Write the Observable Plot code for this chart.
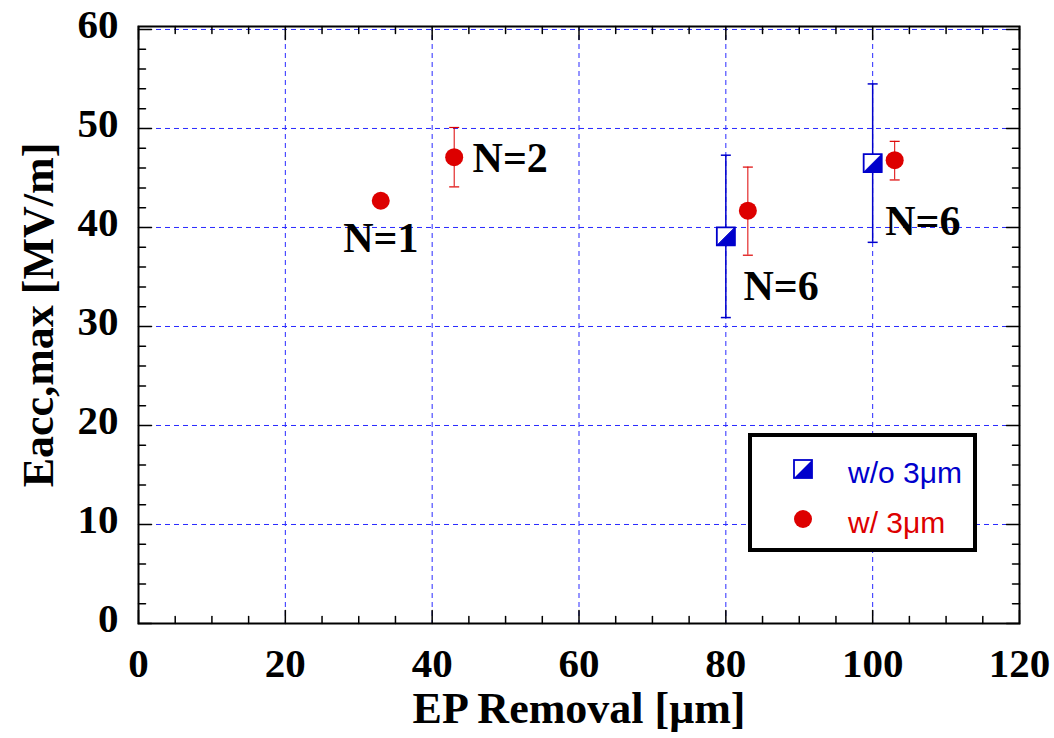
<!DOCTYPE html>
<html>
<head>
<meta charset="utf-8">
<script src="https://cdn.jsdelivr.net/npm/d3@7"></script>
<script src="https://cdn.jsdelivr.net/npm/@observablehq/plot@0.6"></script>
<style>
  html, body { margin: 0; padding: 0; background: #fff; }
  #wrap { position: relative; width: 1054px; height: 738px; }
  #legend { position: absolute; left: 748px; top: 433px; }
</style>
</head>
<body>
<div id="wrap"></div>
<script>
// ---- data ----
const seriesNames = ["w/o 3\u03bcm", "w/ 3\u03bcm"];
// w/o 3um (blue half-filled squares)
const woX  = [80, 100];
const woY  = [39.1, 46.5];
const woLo = [30.9, 38.5];
const woHi = [47.3, 54.5];
// w/ 3um (red circles)
const wX  = [33, 43, 83, 103];
const wY  = [42.7, 47.1, 41.7, 46.8];
const wLo = [null, 44.1, 37.2, 44.8];
const wHi = [null, 50.1, 46.1, 48.7];
// annotations
const annoText   = ["N=1", "N=2", "N=6", "N=6"];
const annoX      = [33, 45.5, 82.4, 101.7];
const annoY      = [38.9, 47.0, 34.0, 40.6];
const annoAnchor = ["middle", "start", "start", "start"];
// axes
const xTickLabels = [0, 20, 40, 60, 80, 100, 120];
const yTickLabels = [0, 10, 20, 30, 40, 50, 60];
const xGridVals = [20, 40, 60, 80, 100];
const yGridVals = [10, 20, 30, 40, 50, 60];
const xMinorVals = d3.range(0, 121, 5).filter(v => v % 20 !== 0);
const yMinorVals = d3.range(0, 61, 2).filter(v => v % 10 !== 0);
const xTitle = "EP Removal [\u03bcm]";
const yTitle = "Eacc,max [MV/m]";

// ---- styling ----
const BLUE = "#0000cc";
const RED = "#dd0000";
const GRID = "#2a2aff";
const SERIF = "'Liberation Serif', 'Times New Roman', serif";

const woRows = woX.map((x, i) => ({x, y: woY[i], lo: woLo[i], hi: woHi[i]}));
const wRows = wX.map((x, i) => ({x, y: wY[i], lo: wLo[i], hi: wHi[i]}));
const wErr = wRows.filter(d => d.lo != null);
const annoRows = annoText.map((t, i) => ({t, x: annoX[i], y: annoY[i], a: annoAnchor[i]}));

const tickShape = {draw(ctx, l) { ctx.moveTo(0, 0); ctx.lineTo(0, -l); }};
const capSymbol = {draw(ctx, size) { const s = Math.sqrt(size) / 2; ctx.moveTo(-s, 0); ctx.lineTo(s, 0); }};
const triSymbol = {draw(ctx, size) { const s = Math.sqrt(size) / 2; ctx.moveTo(s, -s); ctx.lineTo(s, s); ctx.lineTo(-s, s); ctx.closePath(); }};

function ticks(vals, axis, len) {
  const opts = {stroke: "#000", strokeWidth: 1.5, anchor: "start", length: len, shape: tickShape};
  const acc = d => d;
  if (axis === "x") return [
    Plot.vector(vals, {...opts, x: acc, frameAnchor: "bottom", rotate: 0}),
    Plot.vector(vals, {...opts, x: acc, frameAnchor: "top", rotate: 180})
  ];
  return [
    Plot.vector(vals, {...opts, y: acc, frameAnchor: "left", rotate: 90}),
    Plot.vector(vals, {...opts, y: acc, frameAnchor: "right", rotate: -90})
  ];
}

const capR = Math.sqrt(100 / Math.PI);   // cap width 10px
const sqR = Math.sqrt(324 / Math.PI);    // square side 18px

const annoStyle = {x: "x", y: "y", text: "t", lineAnchor: "middle",
  fontSize: 42, fontWeight: "bold", fontFamily: SERIF, fill: "#000", ariaLabel: "annotation"};

const chart = Plot.plot({
  width: 1054,
  height: 738,
  marginLeft: 138,
  marginRight: 35,
  marginTop: 26,
  marginBottom: 115,
  x: {domain: [0, 120], axis: null},
  y: {domain: [0, 60.3], axis: null},
  style: {background: "#fff"},
  marks: [
    Plot.ruleX(xGridVals, {x: d => d, stroke: GRID, strokeWidth: 1, strokeDasharray: "5,4"}),
    Plot.ruleY(yGridVals, {y: d => d, stroke: GRID, strokeWidth: 1, strokeDasharray: "5,4"}),
    ...ticks(xMinorVals, "x", 7),
    ...ticks(xTickLabels, "x", 13),
    ...ticks(yMinorVals, "y", 7),
    ...ticks(yTickLabels, "y", 13),
    // error bars
    Plot.ruleX(woRows, {x: "x", y1: "lo", y2: "hi", stroke: BLUE, strokeWidth: 1.5}),
    Plot.dot(woRows, {x: "x", y: "lo", symbol: capSymbol, r: capR, stroke: BLUE, strokeWidth: 1.5, fill: "none"}),
    Plot.dot(woRows, {x: "x", y: "hi", symbol: capSymbol, r: capR, stroke: BLUE, strokeWidth: 1.5, fill: "none"}),
    Plot.ruleX(wErr, {x: "x", y1: "lo", y2: "hi", stroke: RED, strokeWidth: 1}),
    Plot.dot(wErr, {x: "x", y: "lo", symbol: capSymbol, r: capR, stroke: RED, strokeWidth: 1.2, fill: "none"}),
    Plot.dot(wErr, {x: "x", y: "hi", symbol: capSymbol, r: capR, stroke: RED, strokeWidth: 1.2, fill: "none"}),
    // markers
    Plot.dot(woRows, {x: "x", y: "y", symbol: "square", r: sqR, fill: "#fff", stroke: BLUE, strokeWidth: 1.8}),
    Plot.dot(woRows, {x: "x", y: "y", symbol: triSymbol, r: sqR, fill: BLUE, stroke: BLUE, strokeWidth: 1}),
    Plot.dot(wRows, {x: "x", y: "y", r: 9, fill: RED, stroke: "none"}),
    // annotations
    Plot.text(annoRows.filter(d => d.a === "middle"), {...annoStyle, textAnchor: "middle"}),
    Plot.text(annoRows.filter(d => d.a === "start"), {...annoStyle, textAnchor: "start"}),
    // tick labels
    Plot.text(xTickLabels, {x: d => d, text: d => String(d), frameAnchor: "bottom", dy: 24, lineAnchor: "top", textAnchor: "middle",
      fontSize: 41, fontWeight: "bold", fontFamily: SERIF, fill: "#000"}),
    Plot.text(yTickLabels, {y: d => d, text: d => String(d), frameAnchor: "left", dx: -20, dy: -5, textAnchor: "end", lineAnchor: "middle",
      fontSize: 41, fontWeight: "bold", fontFamily: SERIF, fill: "#000"}),
    // axis titles
    Plot.text([xTitle], {text: d => d, frameAnchor: "bottom", dy: 85, lineAnchor: "middle", textAnchor: "middle",
      fontSize: 44, fontWeight: "bold", fontFamily: SERIF, fill: "#000"}),
    Plot.text([yTitle], {text: d => d, frameAnchor: "left", rotate: -90, dx: -100, dy: -10, lineAnchor: "middle", textAnchor: "middle",
      fontSize: 44, fontWeight: "bold", fontFamily: SERIF, fill: "#000"}),
    Plot.frame({stroke: "#000", strokeWidth: 2})
  ]
});

const wrap = document.getElementById("wrap");
wrap.appendChild(chart);

// white boxes behind annotation labels (they interrupt the grid, as in the reference)
chart.querySelectorAll('g[aria-label="annotation"] text').forEach(t => {
  const b = t.getBBox();
  const r = document.createElementNS("http://www.w3.org/2000/svg", "rect");
  r.setAttribute("x", b.x - 3);
  r.setAttribute("y", b.y - 8);
  r.setAttribute("width", b.width + 6);
  r.setAttribute("height", b.height + 8);
  r.setAttribute("fill", "#fff");
  r.setAttribute("stroke", "none");
  if (t.getAttribute("transform")) r.setAttribute("transform", t.getAttribute("transform"));
  t.parentNode.insertBefore(r, t);
});

// legend (overlay box)
const legend = d3.select(wrap).append("svg").attr("id", "legend")
  .attr("width", 229).attr("height", 119);
legend.append("rect").attr("x", 2).attr("y", 2).attr("width", 225).attr("height", 115)
  .attr("fill", "#fff").attr("stroke", "#000").attr("stroke-width", 4);
const lg1 = legend.append("g").attr("transform", "translate(55,36)");
lg1.append("rect").attr("x", -9).attr("y", -9).attr("width", 18).attr("height", 18)
  .attr("fill", "#fff").attr("stroke", BLUE).attr("stroke-width", 1.8);
lg1.append("path").attr("d", d3.symbol(triSymbol, 324)()).attr("fill", BLUE);
legend.append("circle").attr("cx", 55).attr("cy", 86).attr("r", 9).attr("fill", RED);
legend.append("text").attr("x", 100).attr("y", 50).text(seriesNames[0])
  .attr("fill", BLUE).attr("font-family", "'Liberation Sans', Arial, sans-serif").attr("font-size", 30);
legend.append("text").attr("x", 100).attr("y", 100).text(seriesNames[1])
  .attr("fill", RED).attr("font-family", "'Liberation Sans', Arial, sans-serif").attr("font-size", 30);
</script>
</body>
</html>
